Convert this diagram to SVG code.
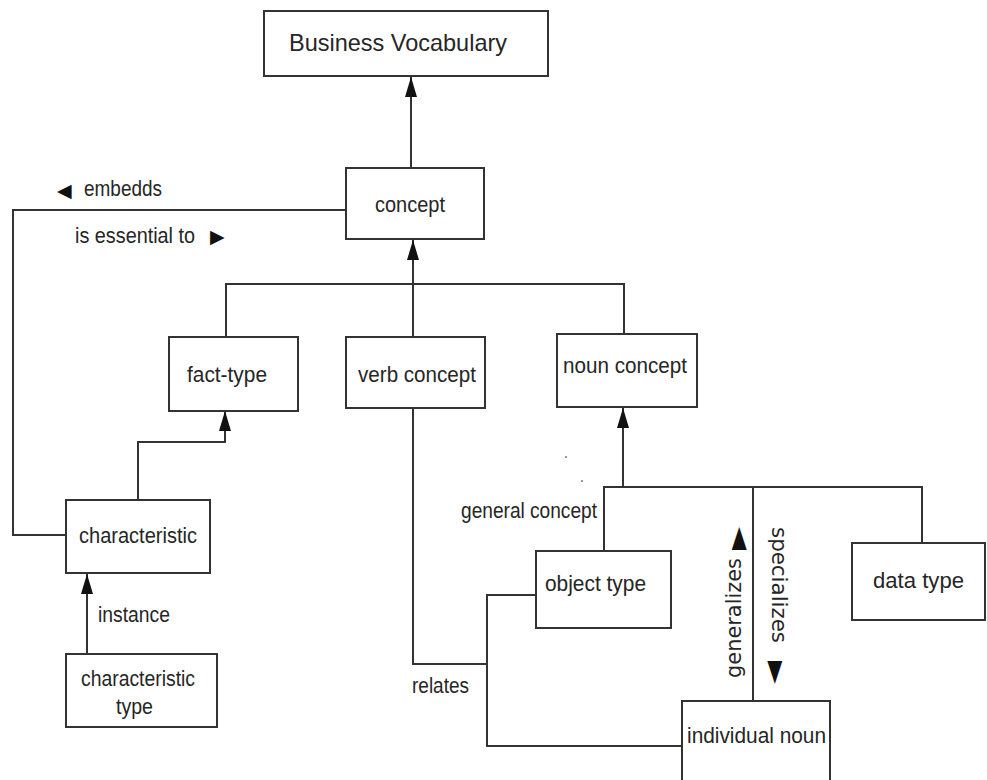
<svg xmlns="http://www.w3.org/2000/svg" width="987" height="780" viewBox="0 0 987 780">
  <defs>
    <style>
      .box { fill: #ffffff; stroke: #333333; stroke-width: 2; }
      .wire { fill: none; stroke: #333333; stroke-width: 2; }
      .lbl { font-family: "Liberation Sans", Arial, sans-serif; font-size: 22px; fill: #262626; }
      .rot { font-family: "DejaVu Sans", "Liberation Sans", sans-serif; font-size: 22px; fill: #262626; }
      .sym { font-family: "DejaVu Sans", sans-serif; font-size: 19px; fill: #111111; }
      .sym-lg { font-family: "DejaVu Sans", sans-serif; font-size: 30px; fill: #111111; }
    </style>
    <marker id="head" markerUnits="userSpaceOnUse" markerWidth="20" markerHeight="12" refX="20" refY="6" orient="auto">
      <path d="M0,0 L20,6 L0,12 Z" fill="#111111"/>
    </marker>
  </defs>

  <rect width="987" height="780" fill="#ffffff"/>

  <!-- connectors -->
  <g id="connectors">
    <path class="wire" d="M411,168 V77" marker-end="url(#head)"/>
    <path class="wire" d="M413,337 V240" marker-end="url(#head)"/>
    <path class="wire" d="M226,337 V284 H624 V334"/>
    <path class="wire" d="M346,210 H13 V535 H66"/>
    <path class="wire" d="M138,500 V442 H225 V411" marker-end="url(#head)"/>
    <path class="wire" d="M87,654 V574" marker-end="url(#head)"/>
    <path class="wire" d="M623,487 V408" marker-end="url(#head)"/>
    <path class="wire" d="M604,551 V487 H922 V543"/>
    <path class="wire" d="M753,487 V701"/>
    <path class="wire" d="M536,595 H487 V746 H682"/>
    <path class="wire" d="M413,408 V664 H487"/>
    <circle cx="566" cy="457" r="1" fill="#777777"/>
    <circle cx="582" cy="481" r="1" fill="#777777"/>
  </g>

  <!-- connector labels -->
  <g id="labels">
    <text class="lbl"><tspan class="sym" x="57" y="197">◀</tspan><tspan x="84" y="196" textLength="78" lengthAdjust="spacingAndGlyphs">embedds</tspan></text>
    <text class="lbl"><tspan x="75" y="243" textLength="120" lengthAdjust="spacingAndGlyphs">is essential to</tspan><tspan class="sym" x="210" y="243">▶</tspan></text>
    <text class="lbl" x="98" y="622" textLength="72" lengthAdjust="spacingAndGlyphs">instance</text>
    <text class="lbl" x="461" y="518" textLength="136" lengthAdjust="spacingAndGlyphs">general concept</text>
    <text class="lbl" x="412" y="693" textLength="57" lengthAdjust="spacingAndGlyphs">relates</text>
    <text class="rot" transform="translate(741,678) rotate(-90)"><tspan x="0" y="0" textLength="120" lengthAdjust="spacingAndGlyphs">generalizes</tspan><tspan class="sym-lg" x="128" y="6">►</tspan></text>
    <text class="rot" transform="translate(772,527) rotate(90)"><tspan x="0" y="0" textLength="116" lengthAdjust="spacingAndGlyphs">specializes</tspan><tspan class="sym-lg" x="134" y="5">►</tspan></text>
  </g>

  <!-- nodes -->
  <g id="business-vocabulary">
    <rect class="box" x="264" y="11" width="284" height="65"/>
    <text class="lbl" x="289" y="51" style="font-size:24px" textLength="218" lengthAdjust="spacingAndGlyphs">Business Vocabulary</text>
  </g>
  <g id="concept">
    <rect class="box" x="346" y="168" width="138" height="71"/>
    <text class="lbl" x="375" y="212" textLength="70" lengthAdjust="spacingAndGlyphs">concept</text>
  </g>
  <g id="fact-type">
    <rect class="box" x="169" y="337" width="129" height="74"/>
    <text class="lbl" x="187" y="382" textLength="80" lengthAdjust="spacingAndGlyphs">fact-type</text>
  </g>
  <g id="verb-concept">
    <rect class="box" x="346" y="337" width="139" height="71"/>
    <text class="lbl" x="358" y="382" textLength="118" lengthAdjust="spacingAndGlyphs">verb concept</text>
  </g>
  <g id="noun-concept">
    <rect class="box" x="557" y="334" width="140" height="73"/>
    <text class="lbl" x="563" y="373" textLength="124" lengthAdjust="spacingAndGlyphs">noun concept</text>
  </g>
  <g id="characteristic">
    <rect class="box" x="66" y="500" width="144" height="73"/>
    <text class="lbl" x="79" y="543" textLength="118" lengthAdjust="spacingAndGlyphs">characteristic</text>
  </g>
  <g id="characteristic-type">
    <rect class="box" x="66" y="654" width="151" height="73"/>
    <text class="lbl" x="81" y="686" textLength="114" lengthAdjust="spacingAndGlyphs">characteristic</text>
    <text class="lbl" x="116" y="714" textLength="37" lengthAdjust="spacingAndGlyphs">type</text>
  </g>
  <g id="object-type">
    <rect class="box" x="536" y="551" width="135" height="77"/>
    <text class="lbl" x="545" y="591" textLength="101" lengthAdjust="spacingAndGlyphs">object type</text>
  </g>
  <g id="data-type">
    <rect class="box" x="852" y="543" width="133" height="77"/>
    <text class="lbl" x="873" y="588" textLength="91" lengthAdjust="spacingAndGlyphs">data type</text>
  </g>
  <g id="individual-noun">
    <rect class="box" x="682" y="701" width="148" height="95"/>
    <text class="lbl" x="687" y="743" textLength="139" lengthAdjust="spacingAndGlyphs">individual noun</text>
  </g>
</svg>
